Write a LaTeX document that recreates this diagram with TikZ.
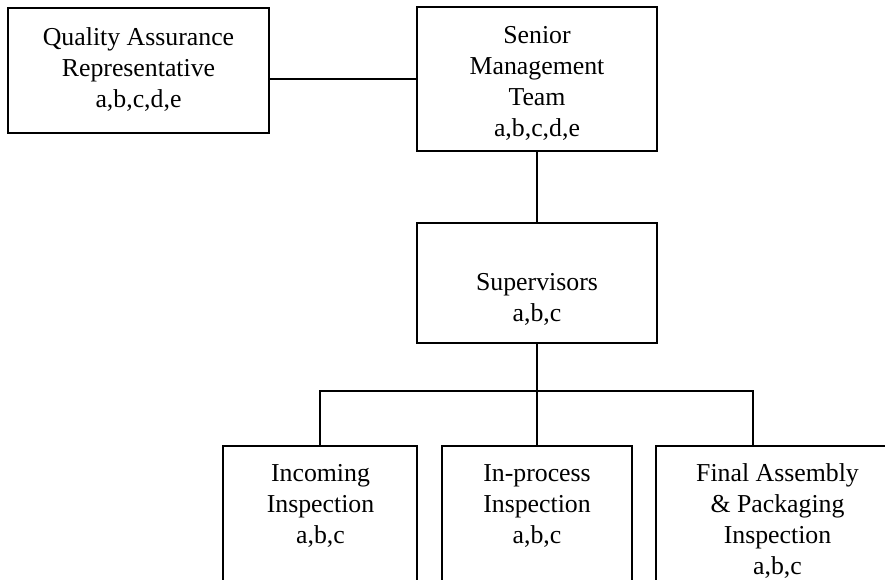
\documentclass[tikz,border=0pt]{standalone}
\usepackage{fontspec}
\setmainfont{Liberation Serif}
\begin{document}
\begin{tikzpicture}[x=1pt,y=-1pt,
  box/.style={draw=black, line width=1.8pt, rectangle, inner sep=0pt, fill=white},
  lbl/.style={font=\fontsize{25.8}{31}\selectfont, align=center, inner sep=0pt, anchor=base},
  link/.style={draw=black, line width=1.8pt}]
\useasboundingbox (0,0) rectangle (885,579);
\clip (0,0) rectangle (885,579);
\fill[white] (0,0) rectangle (885,579);
% boxes
\node[box, minimum width=261pt, minimum height=125pt] (qa) at (138.5,70.5) {};
\node[box, minimum width=240pt, minimum height=144pt] (smt) at (537,79) {};
\node[box, minimum width=240pt, minimum height=120pt] (sup) at (537,283) {};
\node[box, minimum width=194pt, minimum height=200pt] (inc) at (320,546) {};
\node[box, minimum width=190pt, minimum height=200pt] (inp) at (537,546) {};
\node[box, minimum width=242pt, minimum height=200pt] (fin) at (777,546) {};
% texts (anchored at the baseline of the last line)
\node[lbl] (qat) at (138.5,107) {Quality Assurance\\Representative\\a,b,c,d,e};
\node[lbl] (smtt) at (537,136) {Senior\\Management\\Team\\a,b,c,d,e};
\node[lbl] (supt) at (537,321) {Supervisors\\a,b,c};
\node[lbl] (inct) at (320.5,543) {Incoming\\Inspection\\a,b,c};
\node[lbl] (inpt) at (537,543) {In-process\\Inspection\\a,b,c};
\node[lbl] (fint) at (777.5,574) {Final Assembly\\\& Packaging\\Inspection\\a,b,c};
% connectors
\coordinate (bus) at (537,391);
\coordinate (busL) at (320,391);
\coordinate (busR) at (753,391);
\coordinate (finTop) at (753,446);
\draw[link] (smt.west -| qa.east) -- (smt.west);
\draw[link] (smt.south) -- (sup.north);
\draw[link] (sup.south) -- (bus);
\draw[link] (inc.north) -- (busL) -- (busR) -- (finTop);
\draw[link] (bus) -- (inp.north);
\end{tikzpicture}
\end{document}
